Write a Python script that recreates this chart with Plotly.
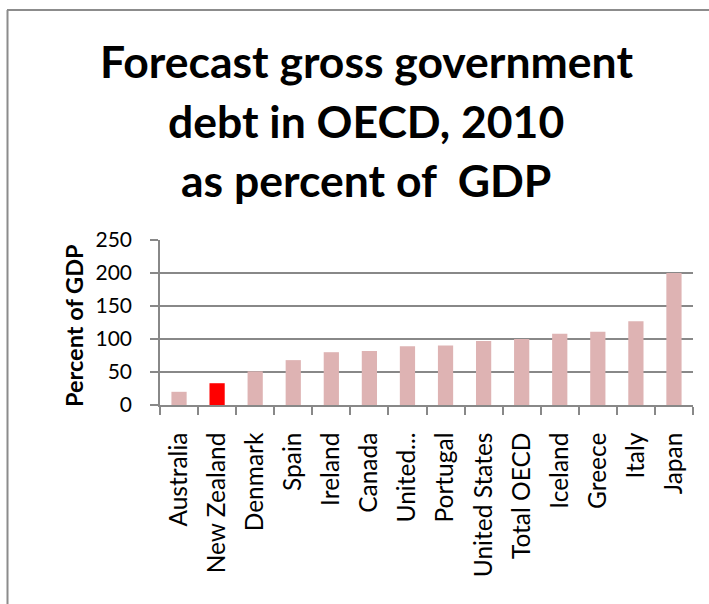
import plotly.graph_objects as go

categories = ["Australia", "New Zealand", "Denmark", "Spain", "Ireland", "Canada",
              "United Kingdom", "Portugal", "United States", "Total OECD", "Iceland",
              "Greece", "Italy", "Japan"]
tick_labels = ["Australia", "New Zealand", "Denmark", "Spain", "Ireland", "Canada",
               "United...", "Portugal", "United States", "Total OECD", "Iceland",
               "Greece", "Italy", "Japan"]
values = [20, 33, 51, 68, 80, 82, 89, 90, 97, 100, 108, 111, 127, 200]
highlight = "New Zealand"

title_lines = ["Forecast gross government", "debt in OECD, 2010", "as percent of  GDP"]
y_title = "Percent of GDP"
y_ticks = [0, 50, 100, 150, 200, 250]

W, H = 709, 604
L, R, T, B = 160, 16, 240, 199
pw, ph = W - L - R, H - T - B

def px_x(x):
    return (x - L) / pw

def px_y(y):
    return (H - B - y) / ph

colors = ["#FF0000" if c == highlight else "#DEB3B3" for c in categories]
FONT = "Lato"
GRID = "#888888"

fig = go.Figure(go.Bar(x=categories, y=values, marker=dict(color=colors, line=dict(width=0)),
                       width=0.4))

annotations = []
for i, (line, ypx) in enumerate(zip(title_lines, [61, 120, 179])):
    annotations.append(dict(text=f"<b>{line}</b>", x=px_x(366), y=px_y(ypx), xref="paper", yref="paper",
                            xanchor="center", yanchor="middle", showarrow=False,
                            font=dict(family=FONT, size=44.5, color="black")))
annotations.append(dict(text=f"<b>{y_title}</b>", x=px_x(74), y=px_y(326), xref="paper", yref="paper",
                        textangle=-90, xanchor="center", yanchor="middle", showarrow=False,
                        font=dict(family=FONT, size=23.5, color="black")))

shapes = [
    dict(type="line", xref="paper", yref="paper", x0=px_x(7.5), x1=px_x(7.5), y0=px_y(10), y1=px_y(640),
         line=dict(color="#8C8C8C", width=2)),
    dict(type="line", xref="paper", yref="paper", x0=px_x(7), x1=px_x(760), y0=px_y(10), y1=px_y(10),
         line=dict(color="#8C8C8C", width=2)),
]

fig.update_layout(
    width=W, height=H,
    margin=dict(l=L, r=R, t=T, b=B, pad=0),
    paper_bgcolor="white", plot_bgcolor="white",
    showlegend=False,
    annotations=annotations,
    shapes=shapes,
    font=dict(family=FONT, color="black"),
)
fig.update_xaxes(
    type="category", tickmode="array", tickvals=categories, ticktext=tick_labels,
    tickangle=-90, tickson="boundaries", ticks="outside", ticklen=8, tickwidth=1.5, tickcolor=GRID,
    showline=True, linecolor=GRID, linewidth=1.5, showgrid=False,
    tickfont=dict(family=FONT, size=24.5, color="black"), ticklabelstandoff=16,
)
fig.update_yaxes(
    range=[0, 250], tickvals=y_ticks, ticks="outside", ticklen=8, tickwidth=1.5, tickcolor=GRID,
    showline=True, linecolor=GRID, linewidth=1.5, showgrid=True, gridcolor=GRID, gridwidth=1.5,
    zeroline=False, tickfont=dict(family=FONT, size=21, color="black"), ticklabelstandoff=14,
)

fig.write_html("out.html")
